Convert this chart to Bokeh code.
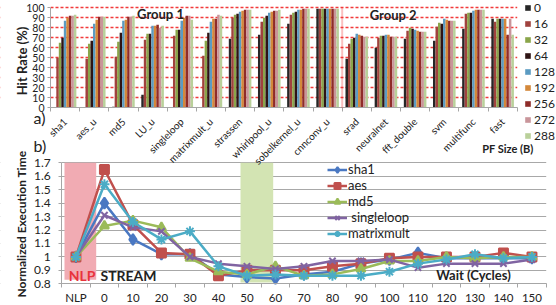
import math
from bokeh.plotting import figure
from bokeh.models import (Range1d, Legend, LegendItem, BoxAnnotation, Label, FixedTicker,
                          CustomJSTickFormatter, ColumnDataSource, LinearAxis, Grid)
from bokeh.transform import dodge
from bokeh.embed import file_html
from bokeh.resources import INLINE

FONT = "Lato"
TXT = "#222222"
AX = "#a6a6a6"

# ---------------- data: panel a) hit rate ----------------
benchmarks = ["sha1", "aes_u", "md5", "LU_u", "singleloop", "matrixmult_u", "strassen",
              "whirlpool_u", "sobelkernel_u", "cnnconv_u", "srad", "neuralnet",
              "fft_double", "svm", "multifunc", "fast"]
pf_sizes = ["0", "16", "32", "64", "128", "192", "256", "272", "288"]
hit_pf0 = [0, 0, 1, 13, 0, 0, 69, 73, 84, 99, 49, 60, 69, 67, 79, 89]
hit_pf16 = [50, 49, 51, 68, 72, 52, 90, 86, 93, 99, 64, 70, 77, 81, 94, 86]
hit_pf32 = [65, 64, 66, 74, 78, 67, 93, 90, 95, 99, 69, 72, 80, 85, 95, 89]
hit_pf64 = [70, 67, 75, 74, 78, 75, 94, 92, 96, 99, 70, 72, 79, 84, 95, 89]
hit_pf128 = [87, 84, 87, 82, 87, 86, 96, 95, 98, 99, 74, 73, 78, 89, 97, 89]
hit_pf192 = [90, 88, 88, 82, 90, 89, 97, 96, 98, 99, 73, 73, 77, 88, 98, 89]
hit_pf256 = [92, 91, 91, 83, 92, 89, 98, 97, 99, 99, 72, 71, 76, 87, 98, 73]
hit_pf272 = [92, 91, 91, 80, 92, 93, 98, 97, 99, 99, 71, 71, 76, 87, 98, 89]
hit_pf288 = [93, 91, 92, 82, 88, 92, 98, 98, 99, 99, 71, 71, 76, 87, 98, 73]
hit_ticks = [0, 10, 20, 30, 40, 50, 60, 70, 80, 90, 100]
group_split = 10   # Group 1 = first 10 benchmarks

# ---------------- data: panel b) normalized execution time ----------------
wait_labels = ["NLP", "0", "10", "20", "30", "40", "50", "60", "70", "80", "90",
               "100", "110", "120", "130", "140", "150"]
time_sha1 = [1.0, 1.40, 1.13, 1.02, 1.02, 0.87, 0.85, 0.84, 0.87, 0.89, 0.95, 0.98, 1.03, 0.99, 0.99, 0.99, 0.99]
time_aes = [1.0, 1.65, 1.24, 1.03, 1.02, 0.86, 0.90, 0.90, 0.90, 0.93, 0.95, 0.99, 1.0, 1.0, 1.0, 1.03, 1.0]
time_md5 = [1.0, 1.23, 1.27, 1.22, 0.99, 0.89, 0.87, 0.93, 0.86, 0.87, 0.91, 0.97, 0.97, 1.0, 0.99, 1.0, 1.0]
time_singleloop = [1.0, 1.31, 1.22, 1.19, 1.0, 0.95, 0.93, 0.91, 0.93, 0.97, 0.97, 0.98, 0.92, 0.95, 0.95, 0.95, 0.98]
time_matrixmult = [1.0, 1.54, 1.26, 1.13, 1.19, 0.93, 0.86, 0.87, 0.86, 0.86, 0.86, 0.89, 0.95, 0.98, 1.02, 0.99, 1.0]
time_ticks = [0.8, 0.9, 1.0, 1.1, 1.2, 1.3, 1.4, 1.5, 1.6, 1.7]

# One canvas, two coordinate systems: panel a (default ranges) and panel b ("bx"/"by")
p = figure(width=556, height=305,
           x_range=Range1d(-1.714, 17.347), y_range=Range1d(-197.7, 107.3),
           x_axis_type=None, y_axis_type=None,
           output_backend="svg", toolbar_location=None,
           min_border_left=0, min_border_right=0, min_border_top=0, min_border_bottom=0)
p.extra_x_ranges = {"bx": Range1d(-2.147, 17.361)}
p.extra_y_ranges = {"by": Range1d(0.6386, 2.9073)}
p.outline_line_color = None
B = dict(x_range_name="bx", y_range_name="by")


def style_axis(ax, size):
    ax.axis_line_color = AX
    ax.major_tick_line_color = None
    ax.minor_tick_line_color = None
    ax.major_tick_out = 0
    ax.major_label_text_font = FONT
    ax.major_label_text_font_size = size
    ax.major_label_text_color = TXT


def add_label(x, y, text, size, bold=True, color=TXT, align="left", angle=0, **kw):
    p.add_layout(Label(x=x, y=y, text=text, text_font=FONT, text_font_size=size,
                       text_font_style="bold" if bold else "normal", text_color=color,
                       text_align=align, text_baseline="middle", angle=angle, **kw))


def mask(**kw):
    p.add_layout(BoxAnnotation(fill_color="white", fill_alpha=1, line_color=None,
                               level="underlay", **kw))


# ======================= panel a =======================
n_b = len(benchmarks)
cat_pos = [i + 0.5 for i in range(n_b)]

g1 = Grid(dimension=1, ticker=FixedTicker(ticks=hit_ticks[1:]), grid_line_color="#f23a3a",
          grid_line_dash="3 2", grid_line_width=1.3, level="image")
p.add_layout(g1)
mask(right=0, bottom=-5)
mask(left=n_b, bottom=-5)

bar_colors = ["#262626", "#a0423e", "#8aa54a", "#2e1414", "#5b9bc2",
              "#d4883a", "#8e2c29", "#c9959a", "#b9d09a"]
series = [hit_pf0, hit_pf16, hit_pf32, hit_pf64, hit_pf128, hit_pf192, hit_pf256, hit_pf272, hit_pf288]
src = ColumnDataSource(dict(pos=cat_pos, **{"s" + s: v for s, v in zip(pf_sizes, series)}))
w = 0.086
items = []
for i, (s, c) in enumerate(zip(pf_sizes, bar_colors)):
    r = p.vbar(x=dodge("pos", (i - 4) * w), top="s" + s, width=w,
               source=src, fill_color=c, line_color=None)
    items.append(LegendItem(label=s, renderers=[r]))

xa = LinearAxis(fixed_location=0, bounds=(0, n_b),
                ticker=FixedTicker(ticks=cat_pos, minor_ticks=list(range(n_b + 1))),
                formatter=CustomJSTickFormatter(args=dict(names=benchmarks),
                                                code="return names[Math.floor(tick)] || '';"))
style_axis(xa, "10px")
xa.minor_tick_line_color = AX
xa.minor_tick_out = 4
xa.minor_tick_in = 0
xa.major_label_orientation = math.pi / 4
xa.major_label_standoff = 8
p.add_layout(xa, "below")

ya = LinearAxis(fixed_location=0, bounds=(0, 100), ticker=FixedTicker(ticks=hit_ticks))
style_axis(ya, "10.5px")
ya.major_tick_line_color = AX
ya.major_tick_out = 3
ya.major_tick_in = 0
ya.major_label_standoff = 3
p.add_layout(ya, "left")

p.add_layout(BoxAnnotation(left=group_split, right=group_split, bottom=0, top=100,
                           fill_alpha=0, line_color="#f03030", line_dash="5 3", line_width=2))

leg1 = Legend(items=items, location=(524, 162), padding=0, margin=0, spacing=1,
              glyph_width=7, glyph_height=7, label_height=15, label_standoff=3,
              label_text_font=FONT, label_text_font_size="12px", label_text_color=TXT,
              background_fill_alpha=0, border_line_color=None)
p.add_layout(leg1)

add_label(-0.977, 46.8, "Hit Rate (%)", "13px", align="center", angle=math.pi / 2)
add_label(3.771, 94.3, "Group 1", "13px", align="center")
add_label(11.748, 93.3, "Group 2", "13px", align="center")
add_label(16.558, -40.7, "PF Size (B)", "11px", align="right")
add_label(-0.583, -9.2, "a)", "16px", bold=False)
add_label(-0.583, -37.2, "b)", "16px", bold=False)

# ======================= panel b =======================
n_w = len(wait_labels)
wait_pos = [i + 0.5 for i in range(n_w)]

g2 = Grid(dimension=1, ticker=FixedTicker(ticks=time_ticks), grid_line_color="#a8a8a8",
          level="image", **B)
p.add_layout(g2)
mask(right=0, top=1.75, **B)
mask(left=n_w, top=1.75, **B)

p.add_layout(BoxAnnotation(left=0.098, right=1.211, bottom=0.83, top=1.7, fill_color="#f1abb3",
                           fill_alpha=1, line_color=None, level="underlay", **B))
p.add_layout(BoxAnnotation(left=6.274, right=7.421, bottom=0.81, top=1.7, fill_color="#d3e4b3",
                           fill_alpha=1, line_color=None, level="underlay", **B))

xb = LinearAxis(fixed_location=0.8, bounds=(0, n_w),
                ticker=FixedTicker(ticks=wait_pos, minor_ticks=list(range(n_w + 1))),
                formatter=CustomJSTickFormatter(args=dict(names=wait_labels),
                                                code="return names[Math.floor(tick)] || '';"),
                **B)
style_axis(xb, "11.5px")
xb.minor_tick_line_color = AX
xb.minor_tick_out = 4
xb.minor_tick_in = 0
xb.major_label_standoff = 3
p.add_layout(xb, "below")

yb = LinearAxis(fixed_location=0, bounds=(0.8, 1.7), ticker=FixedTicker(ticks=time_ticks),
                formatter=CustomJSTickFormatter(code="return Number(tick.toFixed(1)).toString();"),
                **B)
style_axis(yb, "12px")
yb.major_tick_line_color = AX
yb.major_tick_out = 3
yb.major_tick_in = 0
yb.major_label_standoff = 8
p.add_layout(yb, "left")

line_specs = [
    ("sha1", time_sha1, "#4a78c2", "diamond", 11),
    ("aes", time_aes, "#c0504d", "square", 9),
    ("md5", time_md5, "#9bbb59", "triangle", 9),
    (" singleloop", time_singleloop, "#8064a2", "x", 9),
    ("matrixmult", time_matrixmult, "#4bacc6", "asterisk", 10),
]
items2 = []
for name, vals, color, marker, size in line_specs:
    s2 = ColumnDataSource(dict(x=wait_pos, y=vals))
    rl = p.line("x", "y", source=s2, line_color=color, line_width=2.5, **B)
    rs = p.scatter("x", "y", source=s2, marker=marker, size=size, fill_color=color,
                   line_color=color, line_width=2, **B)
    items2.append(LegendItem(label=name, renderers=[rl, rs]))

leg2 = Legend(items=items2, location=(327, 64), padding=0, margin=0, spacing=0,
              glyph_width=20, glyph_height=15, label_height=15, label_standoff=1,
              label_text_font=FONT, label_text_font_size="13px", label_text_color=TXT,
              background_fill_alpha=0, border_line_color=None)
p.add_layout(leg2)

add_label(0.249, 0.862, "NLP", "14px", color="#e8333c", **B)
add_label(1.361, 0.862, "STREAM", "14px", **B)
add_label(13.14, 0.867, "Wait (Cycles)", "13px", **B)
add_label(-1.411, 1.245, "Normalized Execution Time", "12px", align="center", angle=math.pi / 2, **B)

open("out.html", "w").write(file_html(p, INLINE))
